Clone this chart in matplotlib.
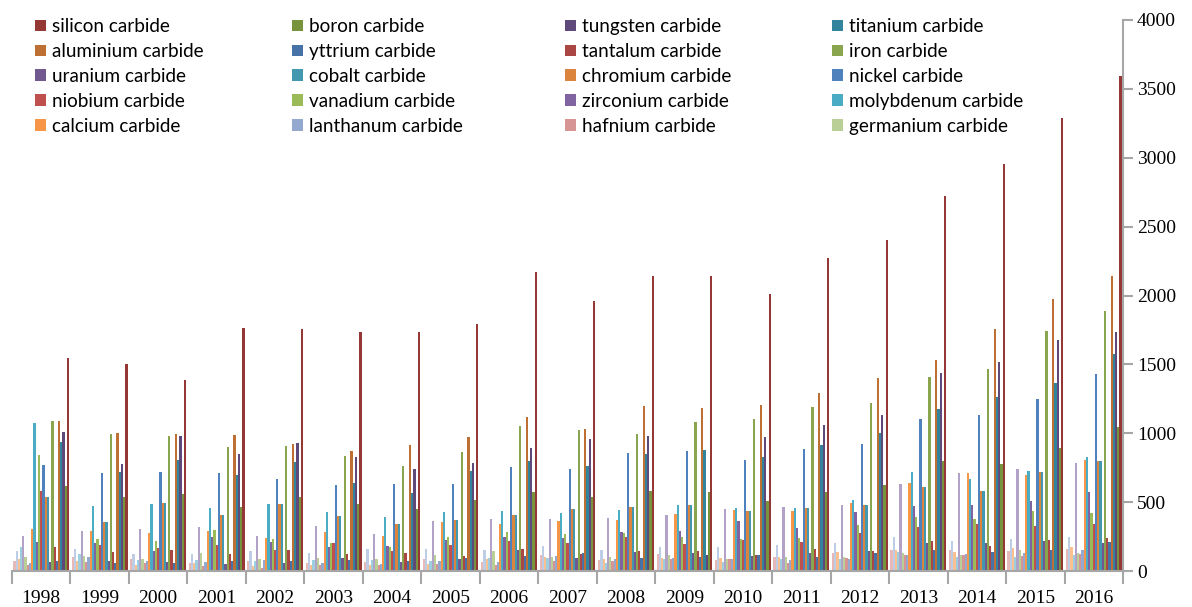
import matplotlib
matplotlib.use('Agg')
import matplotlib.pyplot as plt
from matplotlib.patches import Patch
import numpy as np

years = [str(y) for y in range(1998, 2017)]

# bar heights per series, 1998..2016
silicon = [1548, 1500, 1390, 1761, 1759, 1732, 1736, 1795, 2174, 1957, 2145, 2145, 2014, 2270, 2406, 2725, 2957, 3285, 3594]
boron = [618, 536, 558, 466, 539, 485, 447, 512, 577, 536, 580, 575, 507, 572, 625, 797, 780, 894, 1046]
tungsten = [1009, 778, 983, 850, 930, 831, 739, 782, 894, 959, 980, 113, 973, 1063, 1135, 1434, 1514, 1674, 1737]
titanium = [937, 722, 809, 695, 790, 640, 563, 727, 802, 761, 848, 881, 824, 913, 1000, 1176, 1261, 1362, 1577]
aluminium = [1089, 1002, 997, 985, 922, 874, 918, 976, 1118, 1034, 1200, 1183, 1208, 1294, 1403, 1529, 1754, 1971, 2138]
yttrium = [75, 60, 56, 75, 72, 80, 70, 97, 106, 128, 92, 99, 116, 104, 130, 152, 138, 152, 213]
tantalum = [171, 135, 155, 123, 152, 123, 130, 111, 157, 123, 145, 142, 116, 159, 147, 217, 181, 222, 237]
iron = [1089, 995, 978, 903, 906, 838, 761, 862, 1053, 1022, 997, 1082, 1101, 1188, 1222, 1408, 1466, 1739, 1884]
uranium = [65, 75, 65, 48, 56, 97, 65, 85, 152, 94, 138, 128, 106, 130, 147, 205, 200, 220, 205]
cobalt = [534, 357, 497, 403, 488, 398, 340, 370, 406, 449, 461, 476, 432, 456, 478, 609, 582, 722, 802]
chromium = [534, 357, 497, 403, 488, 398, 340, 370, 406, 449, 461, 476, 432, 456, 478, 609, 582, 722, 802]
nickel = [768, 708, 720, 712, 669, 621, 630, 630, 754, 737, 860, 869, 807, 889, 920, 1101, 1133, 1251, 1432]
niobium = [580, 188, 164, 188, 152, 203, 145, 188, 217, 203, 246, 193, 222, 210, 275, 321, 338, 324, 343]
vanadium = [845, 234, 217, 297, 229, 203, 174, 246, 283, 270, 275, 244, 234, 239, 333, 389, 377, 432, 423]
zirconium = [210, 205, 147, 249, 208, 174, 184, 225, 249, 239, 280, 287, 362, 309, 425, 471, 478, 507, 577]
molybdenum = [1075, 473, 490, 454, 490, 430, 391, 427, 435, 420, 440, 476, 456, 459, 519, 717, 669, 729, 824]
calcium = [302, 290, 273, 290, 239, 283, 254, 353, 340, 362, 370, 415, 442, 435, 493, 638, 712, 700, 804]
lanthanum = [56, 99, 72, 63, 80, 60, 51, 70, 68, 106, 85, 94, 87, 80, 87, 116, 121, 130, 150]
hafnium = [41, 63, 56, 39, 24, 43, 43, 51, 46, 72, 75, 89, 87, 60, 92, 116, 114, 109, 121]
germanium = [104, 111, 85, 128, 87, 94, 85, 114, 145, 99, 104, 118, 89, 99, 101, 128, 116, 152, 130]
# five more series that the legend does not show
extra21 = [254, 287, 302, 321, 256, 324, 268, 360, 374, 374, 382, 403, 447, 464, 478, 635, 708, 739, 782]
extra22 = [176, 121, 77, 82, 75, 80, 80, 70, 94, 94, 60, 85, 65, 89, 85, 138, 104, 104, 114]
extra23 = [85, 75, 43, 58, 36, 43, 41, 53, 87, 104, 85, 97, 97, 99, 140, 155, 138, 167, 174]
extra24 = [145, 159, 123, 123, 145, 128, 157, 162, 152, 181, 152, 174, 176, 186, 203, 246, 217, 234, 249]
extra25 = [75, 99, 85, 58, 70, 58, 65, 87, 65, 116, 80, 123, 80, 99, 133, 152, 152, 142, 162]

names = ['silicon carbide', 'boron carbide', 'tungsten carbide', 'titanium carbide',
         'aluminium carbide', 'yttrium carbide', 'tantalum carbide', 'iron carbide',
         'uranium carbide', 'cobalt carbide', 'chromium carbide', 'nickel carbide',
         'niobium carbide', 'vanadium carbide', 'zirconium carbide', 'molybdenum carbide',
         'calcium carbide', 'lanthanum carbide', 'hafnium carbide', 'germanium carbide',
         None, None, None, None, None]
series = [silicon, boron, tungsten, titanium, aluminium, yttrium, tantalum, iron,
          uranium, cobalt, chromium, nickel, niobium, vanadium, zirconium, molybdenum,
          calcium, lanthanum, hafnium, germanium, extra21, extra22, extra23, extra24, extra25]
colors = ['#953735', '#77933C', '#5F497A', '#31849B', '#BE7034', '#4672A8',
          '#AA4643', '#89A54E', '#71588F', '#4198AF', '#DB843D', '#4F81BD',
          '#C0504D', '#9BBB59', '#8064A2', '#4BACC6', '#F79646', '#93A9CF',
          '#D69494', '#B9CF96', '#B3A2C7', '#9DCFDF', '#FAC090', '#BCCDE5', '#E6B9B8']

fig = plt.figure(figsize=(11.92, 6.07), dpi=100)
ax = fig.add_axes([12 / 1192, 36 / 607, 1111 / 1192, 551 / 607])

x = np.arange(len(years))
n = len(series)
w = 0.955 / n
handles = []
for k, (vals, c) in enumerate(zip(series, colors)):
    # first series ends up at the right of each group
    ax.bar(x + (12 - k) * w, vals, w, color=c, linewidth=0)
    if names[k]:
        handles.append(Patch(facecolor=c))

ax.set_xlim(-0.5, len(years) - 0.5)
ax.set_ylim(0, 4000)
ax.set_yticks(range(0, 4001, 500))
ax.yaxis.tick_right()
ax.set_xticks(x)
ax.set_xticklabels(years)
ax.set_xticks(np.arange(-0.5, len(years)), minor=True)
for s in ['left', 'top']:
    ax.spines[s].set_visible(False)
for s in ['right', 'bottom']:
    ax.spines[s].set_color('#A6A6A6')
    ax.spines[s].set_linewidth(1.5)
ax.tick_params(axis='x', which='major', length=0, pad=14, labelsize=14)
ax.tick_params(axis='x', which='minor', length=9, width=1.5, color='#A6A6A6')
ax.tick_params(axis='y', length=7, width=1.5, color='#A6A6A6', pad=3, labelsize=14)
for lab in ax.get_xticklabels() + ax.get_yticklabels():
    lab.set_fontfamily('Liberation Serif')

# legend reads row by row, 4 across; one legend per column to pin positions
col_x = [35, 292, 565, 832]
for c in range(4):
    idx = [r * 4 + c for r in range(5)]
    fig.legend([handles[i] for i in idx], [names[i] for i in idx], loc='upper left',
               bbox_to_anchor=(col_x[c] / 1192, 1 - 18 / 607), frameon=False,
               prop={'family': 'Lato', 'size': 13.6}, handlelength=0.56, handleheight=0.56,
               handletextpad=0.32, labelspacing=0.42, borderpad=0, borderaxespad=0)

fig.savefig('out.png', dpi=100)
